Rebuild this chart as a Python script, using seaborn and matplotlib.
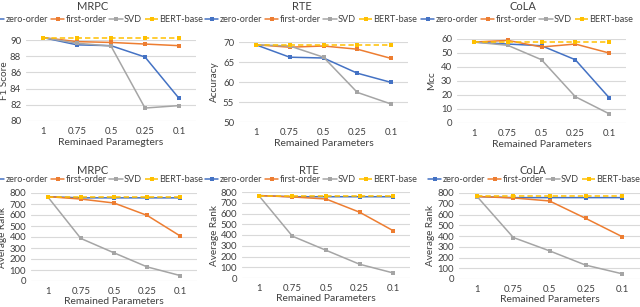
import pandas as pd
import matplotlib.pyplot as plt
import seaborn as sns

params = ["1", "0.75", "0.5", "0.25", "0.1"]
methods = ["zero-order", "first-order", "SVD", "BERT-base"]

# top row: task scores
mrpc_f1 = {
    "zero-order": [90.3, 89.4, 89.3, 87.9, 82.8],
    "first-order": [90.3, 89.8, 89.7, 89.5, 89.3],
    "SVD": [90.3, 89.6, 89.25, 81.6, 81.9],
    "BERT-base": [90.3, 90.3, 90.3, 90.3, 90.3],
}
rte_acc = {
    "zero-order": [69.3, 66.2, 66.0, 62.2, 59.9],
    "first-order": [69.3, 68.7, 69.0, 68.2, 65.9],
    "SVD": [69.3, 69.0, 66.2, 57.4, 54.5],
    "BERT-base": [69.3, 69.3, 69.3, 69.3, 69.3],
}
cola_mcc = {
    "zero-order": [57.8, 56.4, 55.2, 45.2, 18.1],
    "first-order": [57.8, 59.0, 54.3, 56.4, 50.0],
    "SVD": [57.8, 55.5, 45.2, 18.8, 6.6],
    "BERT-base": [57.8, 57.8, 57.8, 57.8, 57.8],
}
# bottom row: average rank
mrpc_rank = {
    "zero-order": [767, 756, 756, 756, 756],
    "first-order": [767, 745, 709, 596, 408],
    "SVD": [767, 387, 256, 128, 49],
    "BERT-base": [767, 767, 767, 767, 767],
}
rte_rank = {
    "zero-order": [767, 756, 756, 756, 756],
    "first-order": [767, 754, 735, 612, 440],
    "SVD": [767, 389, 258, 128, 47],
    "BERT-base": [767, 767, 767, 767, 767],
}
cola_rank = {
    "zero-order": [767, 757, 757, 757, 757],
    "first-order": [767, 754, 726, 564, 395],
    "SVD": [767, 386, 262, 129, 49],
    "BERT-base": [768, 768, 768, 768, 768],
}

colors = {"zero-order": "#4472C4", "first-order": "#ED7D31",
          "SVD": "#A5A5A5", "BERT-base": "#FFC000"}
dashes = {"zero-order": "", "first-order": "", "SVD": "", "BERT-base": (3.5, 2)}

sns.set_style("white")
plt.rcParams["font.family"] = ["Lato", "DejaVu Sans"]

W, H = 640, 307
fig = plt.figure(figsize=(6.4, 3.07), dpi=100)

# (data, title, ylabel, xlabel, ylim, yticks, axes px box, title x, legend x, ylabel x)
panels = [
    (mrpc_f1, "MRPC", "F1 Score", "Reminaed Paramegters", (80, 90), range(80, 91, 2),
     (26, 196, 40, 121), 93, 97, 9),
    (rte_acc, "RTE", "Accuracy", "Remained Parameters", (50, 70), range(50, 71, 5),
     (239, 408, 42, 122), 302, 311, 219),
    (cola_mcc, "CoLA", "Mcc", "Remained Parameters", (0, 60), range(0, 61, 10),
     (457, 626, 39, 123), 523, 527, 436),
    (mrpc_rank, "MRPC", "Average Rank", "Remained Parameters", (0, 800), range(0, 801, 100),
     (31, 197, 193, 281), 93, 97, 7.5),
    (rte_rank, "RTE", "Average Rank", "Remained Parameters", (0, 800), range(0, 801, 100),
     (242, 410, 192, 278), 309, 311, 219),
    (cola_rank, "CoLA", "Average Rank", "Remained Parameters", (0, 800), range(0, 801, 100),
     (459, 640, 193, 279), 533, 534, 435),
]

for i, (data, title, ylab, xlab, ylim, yticks, box, tx, lx, ylx) in enumerate(panels):
    x0, x1, y0, y1 = box
    ax = fig.add_axes([x0 / W, 1 - y1 / H, (x1 - x0) / W, (y1 - y0) / H])
    rows = []
    for m in methods:
        for p, v in zip(params, data[m]):
            rows.append({"param": p, "value": v, "method": m})
    df = pd.DataFrame(rows)
    df["pos"] = df["param"].map({p: k for k, p in enumerate(params)})
    sns.lineplot(data=df, x="pos", y="value", hue="method", style="method",
                 palette=colors, dashes=dashes, markers={m: "s" for m in methods},
                 markersize=2.8, markeredgewidth=0, linewidth=1.1, sort=False,
                 ax=ax, clip_on=False, legend=True)
    ax.set_xlim(-0.5, 4.5)
    ax.set_ylim(*ylim)
    ax.set_yticks(list(yticks))
    ax.set_xticks(range(len(params)))
    ax.set_xticklabels(params)
    ax.yaxis.grid(True, color="#D9D9D9", linewidth=0.8)
    ax.set_axisbelow(True)
    for s in ax.spines.values():
        s.set_visible(False)
    ax.tick_params(axis="both", length=0, labelsize=6.9, colors="#404040")
    ax.tick_params(axis="x", pad=4)
    ax.tick_params(axis="y", pad=3.5)
    ax.set_xlabel(xlab, fontsize=7.5, color="#404040", labelpad=2 if i < 3 else 1)
    ax.set_ylabel(ylab, fontsize=7.2, color="#404040")
    ax.yaxis.set_label_coords((ylx - x0) / (x1 - x0), 0.5)

    handles, labels = ax.get_legend_handles_labels()
    ax.get_legend().remove()
    row_top = 0 if i < 3 else 160
    fig.text(tx / W, 1 - (row_top + 6 + (0 if i < 3 else 4)) / H, title,
             ha="center", va="center", fontsize=8, color="#404040")
    fig.legend(handles, labels, loc="center", ncol=4, frameon=False,
               bbox_to_anchor=(lx / W, 1 - (row_top + 20) / H),
               fontsize=6.6, handlelength=1.5, handletextpad=0.1,
               columnspacing=0.3, borderaxespad=0, borderpad=0,
               labelcolor="#404040")

fig.savefig("out.png", dpi=100)
